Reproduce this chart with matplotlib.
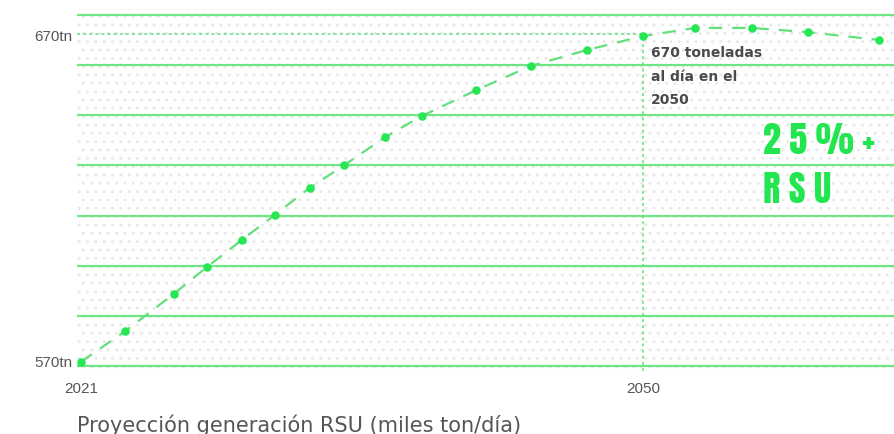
"""Proyección generación RSU: dotted-green projection chart."""

import matplotlib
import matplotlib.pyplot as plt
import numpy as np
from matplotlib.patches import Rectangle

matplotlib.use("Agg")

# data (years are uneven in the original)
years = [2021, 2023.3, 2025.8, 2027.5, 2029.3, 2031.0, 2032.8, 2034.6, 2036.7,
         2038.6, 2041.4, 2044.2, 2047.1, 2050, 2052.7, 2055.6, 2058.5, 2062.2]
tonnes = [570, 579.5, 590.9, 599.1, 607.4, 615.1, 623.4, 630.4, 639.0,
          645.5, 653.4, 660.8, 665.7, 670, 672.5, 672.5, 671.2, 668.8]
x_ticks = [2021, 2050]
y_ticks = [570, 670]
y_tick_labels = ["570tn", "670tn"]
highlight_year = 2050
highlight_value = 670
note = "670 toneladas\nal día en el\n2050"
big_lines = ["2 5 % +", "R S U"]
title = "Proyección generación RSU (miles ton/día)"

GRID = "#6fe584"
LINE = "#62e07c"
DOT = "#27e854"
BIG = "#22e650"
TEXT = "#555555"

fig = plt.figure(figsize=(8.94, 4.35), dpi=100)
ax = fig.add_axes([77 / 894, 63 / 435, 1 - 77 / 894, 362 / 435])
ax.set_xlim(2020.8, 2062.95)
ax.set_ylim(567.2, 678.3)

# dotted background texture
plt.rcParams["hatch.linewidth"] = 0.9
bg = Rectangle((0, 0), 1, 1, transform=ax.transAxes, facecolor="white",
               edgecolor="#e8e8e8", hatch="..", linewidth=0, zorder=0)
ax.add_patch(bg)

for level in np.linspace(568.8, 676.4, 8):
    ax.axhline(level, color=GRID, linewidth=1.6, zorder=1)

# reference lines for 2050
ax.plot([ax.get_xlim()[0], highlight_year], [highlight_value + 0.6] * 2,
        color=LINE, linewidth=1.1, linestyle=(0, (2, 2)), zorder=2)
ax.plot([highlight_year, highlight_year], [567.2, highlight_value],
        color=LINE, linewidth=1.1, linestyle=(0, (2, 2)), zorder=2)

ax.plot(years, tonnes, color=LINE, linewidth=1.6, linestyle=(0, (6, 4.5)), zorder=3)
ax.scatter(years, tonnes, s=38, color=DOT, zorder=4, linewidths=0)

ax.text(highlight_year + 0.4, 667.2, note, fontsize=10, fontweight="bold",
        color="#4a4a4a", va="top", ha="left", linespacing=1.85, zorder=5)

for i, line in enumerate(big_lines):
    ax.text(2056.2, 638.4 - i * 15.3, line, fontsize=26,
            color=BIG, ha="left", va="center", zorder=5,
            family=["Anton", "DejaVu Sans"])

ax.set_xticks(x_ticks)
ax.set_xticklabels([str(y) for y in x_ticks])
ax.set_yticks(y_ticks)
ax.set_yticklabels(y_tick_labels)
ax.tick_params(axis="x", length=0, pad=7, labelsize=10, labelcolor=TEXT)
ax.tick_params(axis="y", length=0, pad=3, labelsize=10, labelcolor=TEXT)
for label in ax.get_xticklabels() + ax.get_yticklabels():
    label.set_family(["Liberation Sans", "DejaVu Sans"])
    label.set_fontsize(11)
for label in ax.get_yticklabels():
    label.set_verticalalignment("center")
for spine in ax.spines.values():
    spine.set_visible(False)

fig.text(77 / 894, 1 - 425 / 435, title, fontsize=15, color=TEXT,
         ha="left", va="center")

fig.savefig("out.png", dpi=100)
